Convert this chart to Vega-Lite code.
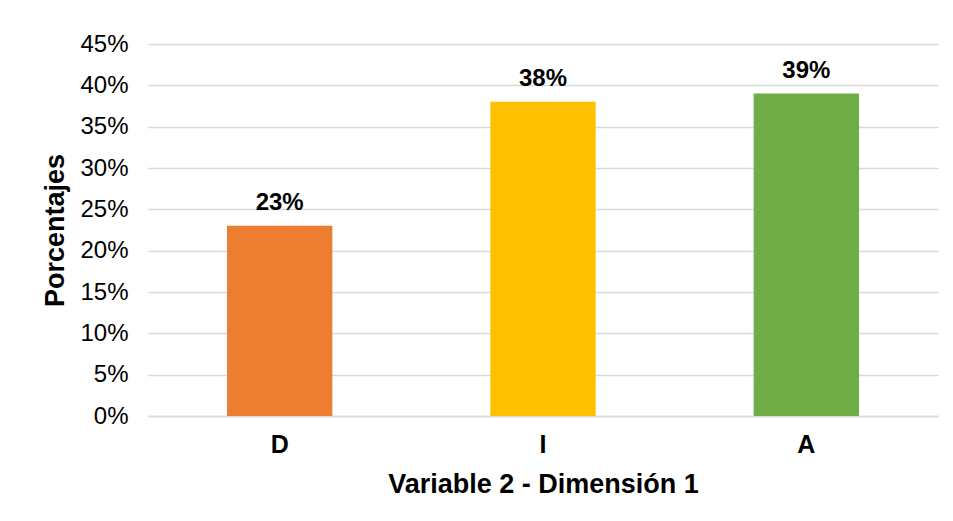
{
  "$schema": "https://vega.github.io/schema/vega-lite/v6.json",
  "width": 790,
  "height": 372,
  "autosize": "none",
  "padding": {"left": 148, "top": 44, "right": 15, "bottom": 105},
  "background": "white",
  "config": {"view": {"stroke": null}, "font": "Liberation Sans"},
  "data": {"values": [
    {"cat": "D", "value": 0.23, "label": "23%"},
    {"cat": "I", "value": 0.38, "label": "38%"},
    {"cat": "A", "value": 0.39, "label": "39%"}
  ]},
  "encoding": {
    "x": {"field": "cat", "type": "nominal", "sort": ["D", "I", "A"],
      "scale": {"paddingInner": 0.6, "paddingOuter": 0.3},
      "axis": {"title": "Variable 2 - Dimensión 1", "labelAngle": 0, "ticks": false,
        "domainColor": "#d9d9d9", "domainWidth": 1.5, "labelFont": "Liberation Sans", "labelFontWeight": "bold", "labelFontSize": 25, "labelColor": "#000000", "labelPadding": 16,
        "titleFont": "Liberation Sans", "titleFontSize": 27, "titleFontWeight": "bold", "titleColor": "#000000", "titlePadding": 14}
    },
    "y": {"field": "value", "type": "quantitative",
      "scale": {"domain": [0, 0.45]},
      "axis": {"title": "Porcentajes", "format": ".0%", "values": [0, 0.05, 0.1, 0.15, 0.2, 0.25, 0.3, 0.35, 0.4, 0.45],
        "ticks": false, "domain": false, "gridColor": "#d9d9d9", "gridWidth": 1.5,
        "labelFont": "Liberation Sans", "labelFontSize": 24, "labelColor": "#000000", "labelPadding": 20,
        "titleFont": "Liberation Sans", "titleFontSize": 27, "titleFontWeight": "bold", "titleColor": "#000000", "titlePadding": 10}
    }
  },
  "layer": [
    {"mark": {"type": "bar"},
     "encoding": {"color": {"field": "cat", "type": "nominal", "legend": null,
       "scale": {"domain": ["D", "I", "A"], "range": ["#ED7D31", "#FFC000", "#70AD47"]}}}},
    {"mark": {"type": "text", "baseline": "alphabetic", "dy": -16, "fontSize": 24, "fontWeight": "bold", "font": "Liberation Sans", "color": "#000000"},
     "encoding": {"text": {"field": "label"}}}
  ]
}
